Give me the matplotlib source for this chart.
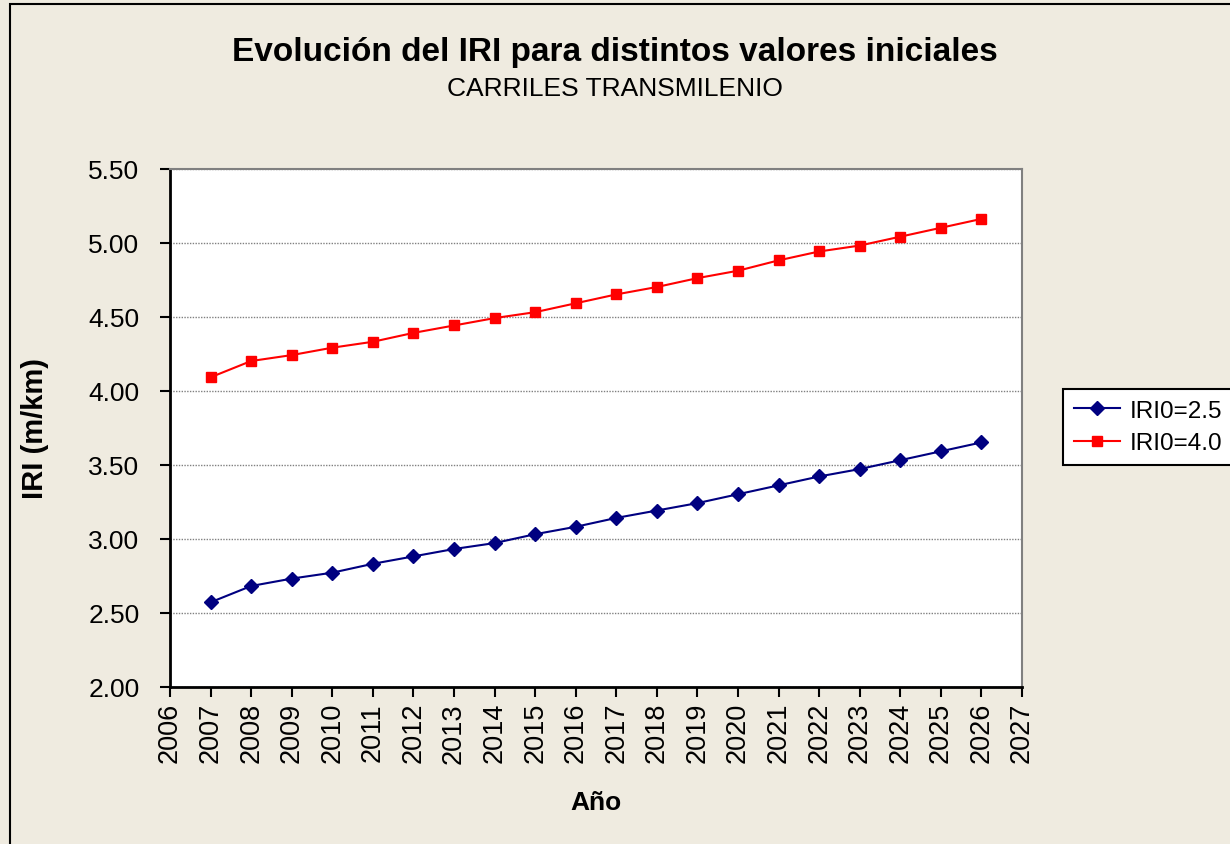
import matplotlib
matplotlib.use("Agg")
import matplotlib.pyplot as plt
from matplotlib.patches import Rectangle

years = list(range(2007, 2027))
iri_25 = [2.57, 2.68, 2.73, 2.77, 2.83, 2.88, 2.93, 2.97, 3.03, 3.08,
          3.14, 3.19, 3.24, 3.30, 3.36, 3.42, 3.47, 3.53, 3.59, 3.65]
iri_40 = [4.09, 4.20, 4.24, 4.29, 4.33, 4.39, 4.44, 4.49, 4.53, 4.59,
          4.65, 4.70, 4.76, 4.81, 4.88, 4.94, 4.98, 5.04, 5.10, 5.16]
y_ticks = [2.00, 2.50, 3.00, 3.50, 4.00, 4.50, 5.00, 5.50]
x_ticks = list(range(2006, 2028))

plt.rcParams['font.family'] = ['Liberation Sans', 'DejaVu Sans']
bg = '#EFEBE0'

fig = plt.figure(figsize=(12.3, 8.45), dpi=100, facecolor=bg)
ax = fig.add_axes([0.1382, 0.1862, 0.6927, 0.6131])
ax.set_facecolor('white')

# figure border
fig.patches.append(Rectangle((10 / 1230, -0.01), 1.1, 1 - 5 / 845 + 0.01,
                             transform=fig.transFigure, fill=False,
                             edgecolor='black', linewidth=1.5))

ax.plot(years, iri_25, color='#000080', marker='D', markersize=7,
        linewidth=1.5, label='IRI0=2.5')
ax.plot(years, iri_40, color='#FF0000', marker='s', markersize=7.5,
        linewidth=1.5, label='IRI0=4.0')

ax.set_xlim(2006, 2027)
ax.set_ylim(2.0, 5.5)
ax.set_xticks(x_ticks)
ax.set_xticklabels([str(x) for x in x_ticks], rotation=90, fontsize=19.5)
ax.set_yticks(y_ticks)
ax.set_yticklabels([f'{v:.2f}' for v in y_ticks], fontsize=19)
ax.tick_params(axis='both', direction='out', length=7, width=1.5, color='black')
ax.tick_params(axis='x', pad=4)
ax.tick_params(axis='y', pad=15)
ax.yaxis.grid(True, color='#808080', linestyle=(0, (1, 1)), linewidth=1)
ax.set_axisbelow(True)

for side in ['top', 'right']:
    ax.spines[side].set_color('#808080')
    ax.spines[side].set_linewidth(1.5)
for side in ['left', 'bottom']:
    ax.spines[side].set_color('black')
    ax.spines[side].set_linewidth(2)

ax.set_xlabel('Año', fontsize=19, fontweight='bold')
ax.xaxis.set_label_coords(0.5, (688 - 803) / 518)
ax.xaxis.label.set_va('center')
ax.set_ylabel('IRI (m/km)', fontsize=21, fontweight='bold')
ax.yaxis.set_label_coords((35 - 170) / 852, 0.5)
ax.yaxis.label.set_va('center')

fig.text(0.5, 1 - 52 / 845, 'Evolución del IRI para distintos valores iniciales',
         ha='center', va='center', fontsize=24, fontweight='bold')
fig.text(0.5, 1 - 89 / 845, 'CARRILES TRANSMILENIO',
         ha='center', va='center', fontsize=19)

leg = fig.legend(loc='center left', bbox_to_anchor=(1063 / 1230, 1 - 428 / 845),
                 fontsize=17.5, fancybox=False, edgecolor='black', framealpha=1,
                 handlelength=1.9, borderpad=0.45, labelspacing=0.45,
                 handletextpad=0.4, borderaxespad=0)
leg.get_frame().set_linewidth(1.5)

fig.savefig('out.png', dpi=100, facecolor=bg)
